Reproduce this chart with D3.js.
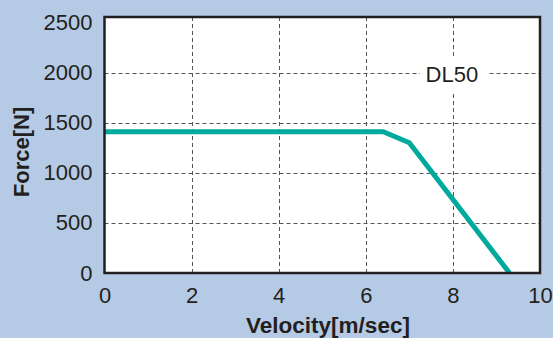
<!DOCTYPE html>
<html><head><meta charset="utf-8">
<script src="https://cdn.jsdelivr.net/npm/d3@7"></script>
<style>html,body{margin:0;padding:0;background:#b5cbe5;}svg{display:block;}</style>
</head><body>
<script>
const velocity = [0, 6.4, 7.0, 9.3];
const force = [1410, 1410, 1300, 0];
const xTicks = [0, 2, 4, 6, 8, 10];
const yTicks = [0, 500, 1000, 1500, 2000, 2500];
const seriesLabel = "DL50";
const xTitle = "Velocity[m/sec]";
const yTitle = "Force[N]";

(function () {
const W = 553, H = 338;
const FONT = "Liberation Sans, Arial, sans-serif";
const svg = d3.select("body").append("svg").attr("width", W).attr("height", H);
svg.append("rect").attr("width", W).attr("height", H).attr("fill", "#b5cbe5");

const x = d3.scaleLinear().domain([0, 10]).range([104.5, 540]);
const y = d3.scaleLinear().domain([0, 2500]).range([273, 22.5]);
const plotTop = 17;

svg.append("rect").attr("x", x(0)).attr("y", plotTop).attr("width", x(10) - x(0)).attr("height", y(0) - plotTop).attr("fill", "#fff");

const grid = svg.append("g").attr("stroke", "#555").attr("stroke-width", 1).attr("stroke-dasharray", "4,3");
grid.selectAll(".gx").data(xTicks.filter(d => d > 0 && d < 10)).enter().append("line")
  .attr("x1", d => Math.round(x(d)) + 0.5).attr("x2", d => Math.round(x(d)) + 0.5)
  .attr("y1", plotTop).attr("y2", y(0));
grid.selectAll(".gy").data(yTicks.filter(d => d > 0 && d < 2500)).enter().append("line")
  .attr("y1", d => Math.round(y(d)) + 0.5).attr("y2", d => Math.round(y(d)) + 0.5)
  .attr("x1", x(0)).attr("x2", x(10));

svg.append("rect").attr("x", 420).attr("y", 56).attr("width", 68).attr("height", 36).attr("fill", "#fff");
svg.append("text").attr("x", x(8) - 1).attr("y", 81.5).attr("text-anchor", "middle")
  .attr("font-family", FONT).attr("font-size", 22).attr("fill", "#231f20").text(seriesLabel);

const pts = velocity.map((v, i) => [v, force[i]]);
svg.append("path").datum(pts)
  .attr("d", d3.line().x(d => x(d[0])).y(d => y(d[1])))
  .attr("fill", "none").attr("stroke", "#00a99d").attr("stroke-width", 5).attr("stroke-linejoin", "miter");

svg.append("rect").attr("x", x(0)).attr("y", plotTop).attr("width", x(10) - x(0)).attr("height", y(0) - plotTop)
  .attr("fill", "none").attr("stroke", "#231f20").attr("stroke-width", 2.5);

const xAxis = svg.append("g").attr("transform", `translate(0,${y(0)})`)
  .call(d3.axisBottom(x).tickValues(xTicks).tickSize(0).tickPadding(14).tickFormat(d3.format("d")));
xAxis.select(".domain").remove();
xAxis.selectAll("text").attr("font-family", FONT).attr("font-size", 22).attr("fill", "#231f20");

const yAxis = svg.append("g").attr("transform", `translate(${x(0)},0)`)
  .call(d3.axisLeft(y).tickValues(yTicks).tickSize(0).tickPadding(12).tickFormat(d3.format("d")));
yAxis.select(".domain").remove();
yAxis.selectAll("text").attr("font-family", FONT).attr("font-size", 22).attr("fill", "#231f20");

svg.append("text").attr("x", 328).attr("y", 333).attr("text-anchor", "middle")
  .attr("font-family", FONT).attr("font-weight", "bold").attr("font-size", 22.5).attr("fill", "#231f20").text(xTitle);
svg.append("text").attr("transform", `translate(29,${(plotTop + y(0)) / 2 + 7}) rotate(-90)`).attr("text-anchor", "middle")
  .attr("font-family", FONT).attr("font-weight", "bold").attr("font-size", 22).attr("fill", "#231f20").text(yTitle);
})();
</script>
</body></html>
